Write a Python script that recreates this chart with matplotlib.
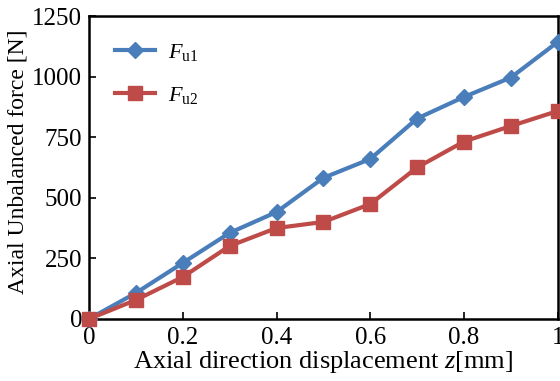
#!/usr/bin/env python3

import numpy as np
import matplotlib
matplotlib.use("Agg")
from matplotlib import pyplot as plt

# displacement (mm)
z = [0, 0.1, 0.2, 0.3, 0.4, 0.5, 0.6, 0.7, 0.8, 0.9, 1.0]
# axial unbalanced force (N)
f_u1 = [0, 107, 231, 355, 441, 582, 660, 827, 916, 996, 1143]
f_u2 = [0, 78, 173, 301, 375, 400, 474, 625, 732, 796, 858]

x_ticks = [0, 0.2, 0.4, 0.6, 0.8, 1]
x_labels = ["0", "0.2", "0.4", "0.6", "0.8", "1"]
y_ticks = [0, 250, 500, 750, 1000, 1250]

plt.rcParams['font.family'] = ['Liberation Serif', 'DejaVu Serif']
plt.rcParams['mathtext.fontset'] = 'custom'
plt.rcParams['mathtext.rm'] = 'Liberation Serif'
plt.rcParams['mathtext.it'] = 'Liberation Serif:italic'

fig = plt.figure(figsize=(5.6, 3.81), dpi=100)
ax = fig.add_axes([0.159, 0.163, 0.837, 0.795])

ax.plot(z, f_u1, color='#4A7EBB', lw=3, marker='D', ms=8, clip_on=False,
        label=r'$F_{\rm u1}$', zorder=3)
ax.plot(z, f_u2, color='#BE4B48', lw=3, marker='s', ms=10, clip_on=False,
        label=r'$F_{\rm u2}$', zorder=3)

ax.set_xlim(0, 1)
ax.set_ylim(0, 1250)
ax.set_xticks(x_ticks)
ax.set_xticklabels(x_labels)
ax.set_yticks(y_ticks)
ax.tick_params(direction='in', labelsize=18, length=5, width=1.2, pad=5)
ax.tick_params(axis='x', pad=6)
for s in ax.spines.values():
    s.set_linewidth(1.8)

ax.set_xlabel('Axial direction displacement $z$[mm]', fontsize=19, labelpad=0)
ax.set_ylabel('Axial Unbalanced force [N]', fontsize=17)
ax.yaxis.set_label_coords(-0.13, 0.52)

leg = ax.legend(loc='upper left', frameon=False, fontsize=16,
                handlelength=1.8, handletextpad=0.6, borderaxespad=0.75,
                labelspacing=1.0)

plt.savefig('out.png', dpi=100)
